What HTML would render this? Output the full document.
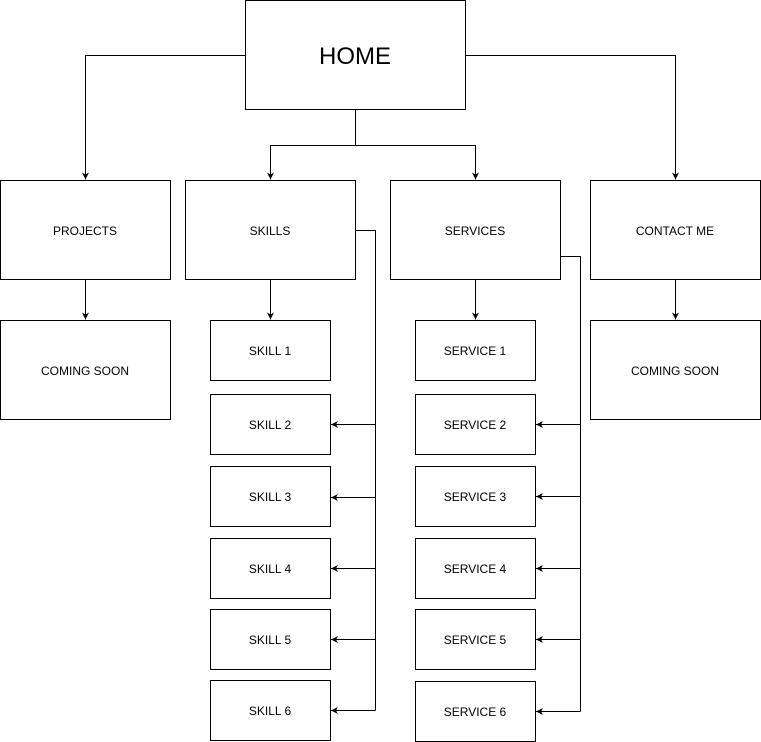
<!DOCTYPE html>
<html><head><meta charset="utf-8"><style>
html,body{margin:0;padding:0;background:#fff;width:761px;height:742px;overflow:hidden}
text{font-family:"Liberation Sans",sans-serif;font-size:12px;fill:#000}
</style></head><body>
<svg width="761" height="742" viewBox="0 0 761 742" xmlns="http://www.w3.org/2000/svg">
<defs><marker id="a" markerWidth="8" markerHeight="8" refX="7" refY="4" orient="auto" markerUnits="userSpaceOnUse"><path d="M0,0.5 L7,4 L0,7.5 L2,4 Z" fill="#000"/></marker></defs>
<g fill="#fff" stroke="#000" stroke-width="1">
<rect x="245.5" y="0.5" width="220" height="109"/>
<rect x="0.5" y="180.5" width="170" height="99"/>
<rect x="185.5" y="180.5" width="170" height="99"/>
<rect x="390.5" y="180.5" width="170" height="99"/>
<rect x="590.5" y="180.5" width="170" height="99"/>
<rect x="0.5" y="320.5" width="170" height="99"/>
<rect x="590.5" y="320.5" width="170" height="99"/>
<rect x="210.5" y="320.5" width="120" height="60"/>
<rect x="210.5" y="394.5" width="120" height="60"/>
<rect x="210.5" y="466.5" width="120" height="60"/>
<rect x="210.5" y="538.5" width="120" height="60"/>
<rect x="210.5" y="609.5" width="120" height="60"/>
<rect x="210.5" y="680.5" width="120" height="60"/>
<rect x="415.5" y="320.5" width="120" height="60"/>
<rect x="415.5" y="394.5" width="120" height="60"/>
<rect x="415.5" y="466.5" width="120" height="60"/>
<rect x="415.5" y="538.5" width="120" height="60"/>
<rect x="415.5" y="609.5" width="120" height="60"/>
<rect x="415.5" y="681.5" width="120" height="60"/>
</g>
<g fill="none" stroke="#000" stroke-width="1" marker-end="url(#a)">
<path d="M245.5,55.5 H85.5 V179.5"/>
<path d="M465.5,55.5 H675.5 V179.5"/>
<path d="M355.5,110 V145.5 H270.5 V179.5"/>
<path d="M355.5,145.5 H475.5 V179.5"/>
<path d="M85.5,280 V319.5"/>
<path d="M270.5,280 V319.5"/>
<path d="M475.5,280 V319.5"/>
<path d="M675.5,280 V319.5"/>
<path d="M375.5,424.5 H331"/>
<path d="M375.5,497.5 H331"/>
<path d="M375.5,568.5 H331"/>
<path d="M375.5,639.5 H331"/>
<path d="M375.5,710.5 H331"/>
<path d="M580.5,424.5 H536"/>
<path d="M580.5,496.5 H536"/>
<path d="M580.5,568.5 H536"/>
<path d="M580.5,639.5 H536"/>
<path d="M580.5,711.5 H536"/>
</g>
<g fill="none" stroke="#000" stroke-width="1">
<path d="M355.5,230.5 H375.5 V710.5"/>
<path d="M560.5,256.5 H580.5 V711.5"/>
</g>
<g text-anchor="middle">
<text x="355" y="64" style="font-size:24px">HOME</text>
<text x="85" y="235">PROJECTS</text>
<text x="270" y="235">SKILLS</text>
<text x="475" y="235">SERVICES</text>
<text x="675" y="235">CONTACT ME</text>
<text x="85" y="375">COMING SOON</text>
<text x="675" y="375">COMING SOON</text>
<text x="270" y="355">SKILL 1</text>
<text x="270" y="429">SKILL 2</text>
<text x="270" y="501">SKILL 3</text>
<text x="270" y="573">SKILL 4</text>
<text x="270" y="644">SKILL 5</text>
<text x="270" y="715">SKILL 6</text>
<text x="475" y="355">SERVICE 1</text>
<text x="475" y="429">SERVICE 2</text>
<text x="475" y="501">SERVICE 3</text>
<text x="475" y="573">SERVICE 4</text>
<text x="475" y="644">SERVICE 5</text>
<text x="475" y="716">SERVICE 6</text>
</g>
</svg>
</body></html>
